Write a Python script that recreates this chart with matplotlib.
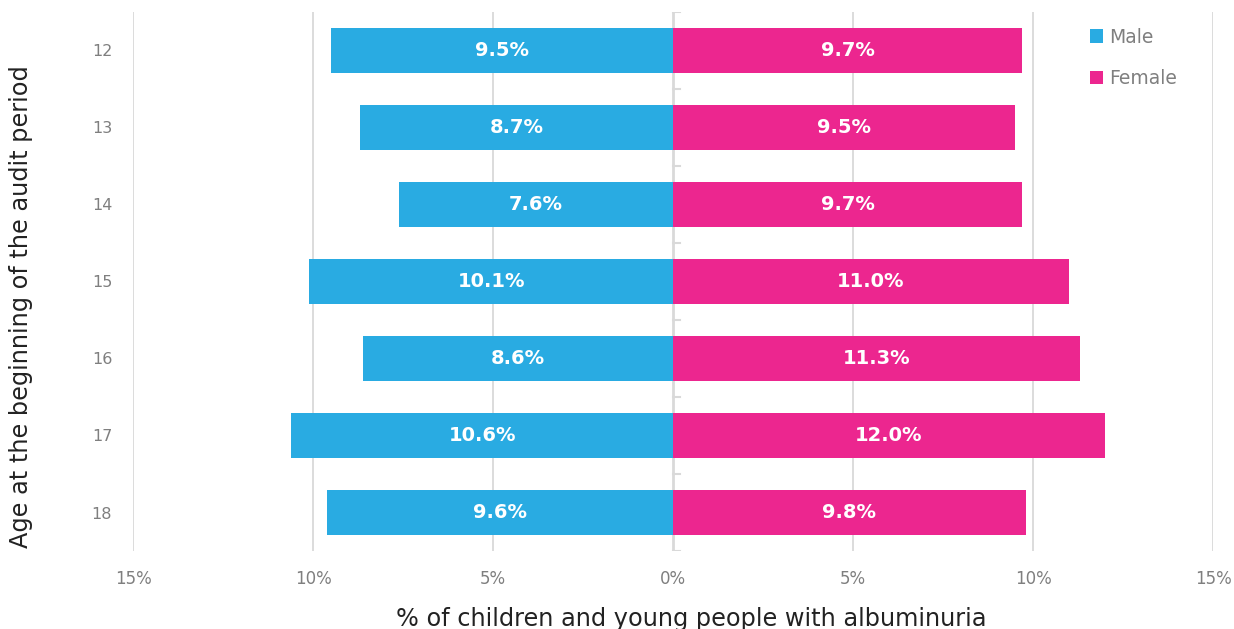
import matplotlib.pyplot as plt
import numpy as np

ages = ["12", "13", "14", "15", "16", "17", "18"]
male = [9.5, 8.7, 7.6, 10.1, 8.6, 10.6, 9.6]
female = [9.7, 9.5, 9.7, 11.0, 11.3, 12.0, 9.8]
x_ticks = [-15, -10, -5, 0, 5, 10, 15]
x_tick_labels = ["15%", "10%", "5%", "0%", "5%", "10%", "15%"]

MALE_COLOR = "#29abe2"
FEMALE_COLOR = "#ec268f"
GRID_COLOR = "#d9d9d9"
TEXT_GRAY = "#7f7f7f"

plt.rcParams['font.family'] = ['DejaVu Sans']

fig = plt.figure(figsize=(12.34, 6.29), dpi=100)
ax = fig.add_axes([0.1078, 0.124, 0.8752, 0.857])

y = np.arange(len(ages))
bar_h = 0.585

ax.barh(y, [-v for v in male], height=bar_h, color=MALE_COLOR, label="Male", zorder=2)
ax.barh(y, female, height=bar_h, color=FEMALE_COLOR, label="Female", zorder=2)

for yi, v in zip(y, male):
    ax.text(-v / 2, yi, "{:.1f}%".format(v), ha="center", va="center",
            color="white", fontsize=14, fontweight="bold", zorder=3)
for yi, v in zip(y, female):
    ax.text(v / 2, yi, "{:.1f}%".format(v), ha="center", va="center",
            color="white", fontsize=14, fontweight="bold", zorder=3)

# grid lines and center axis
for t in x_ticks:
    if t != 0:
        ax.axvline(t, color=GRID_COLOR, linewidth=1.3, zorder=0)
ax.axvline(0, color=GRID_COLOR, linewidth=2, zorder=1)
for b in np.arange(len(ages) + 1) - 0.5:
    ax.plot([0, 0.2], [b, b], color=GRID_COLOR, linewidth=1.5, zorder=1)

ax.set_xlim(-15, 15)
ax.set_ylim(len(ages) - 0.5, -0.5)
ax.set_xticks(x_ticks)
ax.set_xticklabels(x_tick_labels)
ax.set_yticks(y)
ax.set_yticklabels(ages)
ax.tick_params(axis="x", length=0, pad=14, labelsize=12, labelcolor=TEXT_GRAY)
ax.tick_params(axis="y", length=0, pad=15, labelsize=11.5, labelcolor=TEXT_GRAY)
for s in ax.spines.values():
    s.set_visible(False)

ax.set_xlabel("% of children and young people with albuminuria", fontsize=17.3,
              color="#222222")
ax.xaxis.set_label_coords(0.517, -0.104)
ax.set_ylabel("Age at the beginning of the audit period", fontsize=17.3,
              color="#222222")
ax.yaxis.set_label_coords(-0.093, 0.453)

leg = ax.legend(loc="upper left", bbox_to_anchor=(0.879, 0.985), frameon=False,
                fontsize=13.5, handlelength=0.7, handleheight=0.7,
                handletextpad=0.35, labelspacing=1.2, borderaxespad=0)
for txt in leg.get_texts():
    txt.set_color(TEXT_GRAY)

fig.savefig("out.png", dpi=100)
